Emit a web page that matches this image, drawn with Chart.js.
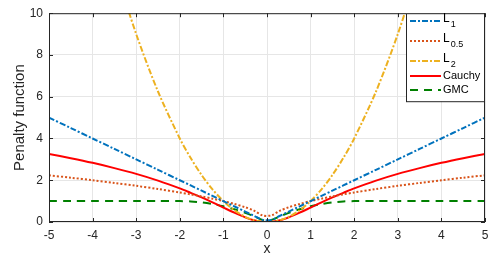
<!DOCTYPE html>
<html>
<head>
<meta charset="utf-8">
<script src="https://cdn.jsdelivr.net/npm/chart.js@4"></script>
<style>
  html, body { margin: 0; padding: 0; background: #fff; }
  #wrap { width: 498px; height: 260px; }
</style>
</head>
<body>
<div id="wrap"><canvas id="penaltyChart" width="498" height="260"></canvas></div>
<script>
// abscissa samples
const xValues = [-5, -4.5, -4, -3.5, -3, -2.5, -2, -1.75, -1.5, -1.25, -1, -0.75, -0.5, -0.3, -0.1,
                 0.1, 0.3, 0.5, 0.75, 1, 1.25, 1.5, 1.75, 2, 2.5, 3, 3.5, 4, 4.5, 5];

// penalty values
const l1Values = [5, 4.5, 4, 3.5, 3, 2.5, 2, 1.75, 1.5, 1.25, 1, 0.75, 0.5, 0.3, 0.1,
                  0.1, 0.3, 0.5, 0.75, 1, 1.25, 1.5, 1.75, 2, 2.5, 3, 3.5, 4, 4.5, 5];
const l05Values = [2.236, 2.121, 2, 1.871, 1.732, 1.581, 1.414, 1.323, 1.225, 1.118, 1, 0.866, 0.707, 0.548, 0.316,
                   0.316, 0.548, 0.707, 0.866, 1, 1.118, 1.225, 1.323, 1.414, 1.581, 1.732, 1.871, 2, 2.121, 2.236];
const l2Values = [null, null, null, 12.25, 9, 6.25, 4, 3.063, 2.25, 1.563, 1, 0.563, 0.25, 0.09, 0.01,
                  0.01, 0.09, 0.25, 0.563, 1, 1.563, 2.25, 3.063, 4, 6.25, 9, 12.25, null, null, null];
const cauchyValues = [3.258, 3.055, 2.833, 2.58, 2.303, 1.981, 1.609, 1.395, 1.179, 0.942, 0.693, 0.446, 0.223, 0.086, 0.01,
                      0.01, 0.086, 0.223, 0.446, 0.693, 0.942, 1.179, 1.395, 1.609, 1.981, 2.303, 2.58, 2.833, 3.055, 3.258];
const gmcValues = [1, 1, 1, 1, 1, 1, 1, 0.984, 0.938, 0.859, 0.75, 0.609, 0.438, 0.278, 0.098,
                   0.098, 0.278, 0.438, 0.609, 0.75, 0.859, 0.938, 0.984, 1, 1, 1, 1, 1, 1, 1];

const xTicks = [-5, -4, -3, -2, -1, 0, 1, 2, 3, 4, 5];
const yTicks = [0, 2, 4, 6, 8, 10];

const seriesNames = ['L1', 'L0.5', 'L2', 'Cauchy', 'GMC'];

function toPoints(ys) {
    return xValues.map((x, i) => ({ x: x, y: ys[i] }));
}

const fontFamily = '"Liberation Sans", Arial, Helvetica, sans-serif';

const seriesStyles = [
    { color: '#0072BD', dash: [6, 2, 2, 2] },
    { color: '#D95319', dash: [2, 2] },
    { color: '#EDB120', dash: [6, 2, 2, 2] },
    { color: '#FF0000', dash: [] },
    { color: '#008000', dash: [8, 6] }
];

const allValues = [l1Values, l05Values, l2Values, cauchyValues, gmcValues];

// box, inward ticks and legend, MATLAB style
const framePlugin = {
    id: 'frame',
    afterDraw(chart) {
        const ctx = chart.ctx;
        const a = chart.chartArea;
        const xs = chart.scales.x, ys = chart.scales.y;
        ctx.save();
        ctx.strokeStyle = '#262626';
        ctx.lineWidth = 1;
        ctx.setLineDash([]);
        ctx.strokeRect(a.left + 0.5, a.top + 0.5, a.right - a.left - 1, a.bottom - a.top - 1);
        ctx.beginPath();
        xTicks.forEach(t => {
            const px = Math.round(xs.getPixelForValue(t)) + 0.5;
            ctx.moveTo(px, a.bottom); ctx.lineTo(px, a.bottom - 4);
            ctx.moveTo(px, a.top); ctx.lineTo(px, a.top + 4);
        });
        yTicks.forEach(t => {
            const py = Math.round(ys.getPixelForValue(t)) + 0.5;
            ctx.moveTo(a.left, py); ctx.lineTo(a.left + 4, py);
            ctx.moveTo(a.right, py); ctx.lineTo(a.right - 4, py);
        });
        ctx.stroke();

        // legend in the top right corner
        const lx = 406, ly = a.top, lw = a.right - 1 - lx, lh = 88;
        ctx.fillStyle = '#fff';
        ctx.fillRect(lx, ly, lw, lh);
        ctx.strokeStyle = '#262626';
        ctx.strokeRect(lx + 0.5, ly + 0.5, lw, lh);
        const rows = [21, 41, 61, 76, 90];
        ctx.textBaseline = 'middle';
        seriesNames.forEach((name, i) => {
            const st = seriesStyles[i];
            ctx.strokeStyle = st.color;
            ctx.lineWidth = 2;
            ctx.setLineDash(st.dash);
            ctx.beginPath();
            ctx.moveTo(lx + 4, rows[i]);
            ctx.lineTo(lx + 35, rows[i]);
            ctx.stroke();
            ctx.fillStyle = '#000';
            const tx = lx + 37;
            if (name.startsWith('L')) {
                ctx.font = '12px ' + fontFamily;
                ctx.fillText('L', tx, rows[i] - 2);
                const w = ctx.measureText('L').width;
                ctx.font = '9px ' + fontFamily;
                ctx.fillText(name.slice(1), tx + w + 1, rows[i] + 4);
            } else {
                ctx.font = '11px ' + fontFamily;
                ctx.fillText(name, tx, rows[i]);
            }
        });
        ctx.restore();
    }
};

new Chart(document.getElementById('penaltyChart'), {
    type: 'line',
    data: {
        datasets: allValues.map((vals, i) => ({
            label: seriesNames[i],
            data: toPoints(vals),
            borderColor: seriesStyles[i].color,
            borderDash: seriesStyles[i].dash,
            borderWidth: 2,
            pointRadius: 0,
            tension: 0.3,
            fill: false
        }))
    },
    options: {
        responsive: false,
        animation: false,
        layout: { padding: { top: 10, right: 13, left: 0, bottom: 0 } },
        plugins: {
            legend: { display: false },
            tooltip: { enabled: false }
        },
        scales: {
            x: {
                type: 'linear',
                min: -5,
                max: 5,
                afterBuildTicks: s => { s.ticks = xTicks.map(v => ({ value: v })); },
                afterFit: s => { s.height = 38; },
                grid: { color: '#e6e6e6', drawTicks: false },
                border: { display: false },
                ticks: { color: '#262626', padding: 6, font: { family: fontFamily, size: 12 }, maxRotation: 0 },
                title: { display: true, text: 'x', color: '#262626', padding: { top: 0, bottom: 2 }, font: { family: fontFamily, size: 14 } }
            },
            y: {
                min: 0,
                max: 10,
                afterBuildTicks: s => { s.ticks = yTicks.map(v => ({ value: v })); },
                afterFit: s => { s.width = 49; },
                grid: { color: '#e6e6e6', drawTicks: false },
                border: { display: false },
                ticks: { color: '#262626', padding: 6, font: { family: fontFamily, size: 12 } },
                title: { display: true, text: 'Penalty function', color: '#262626', padding: { top: 11, bottom: 0 }, font: { family: fontFamily, size: 15 } }
            }
        }
    },
    plugins: [framePlugin]
});
</script>
</body>
</html>
